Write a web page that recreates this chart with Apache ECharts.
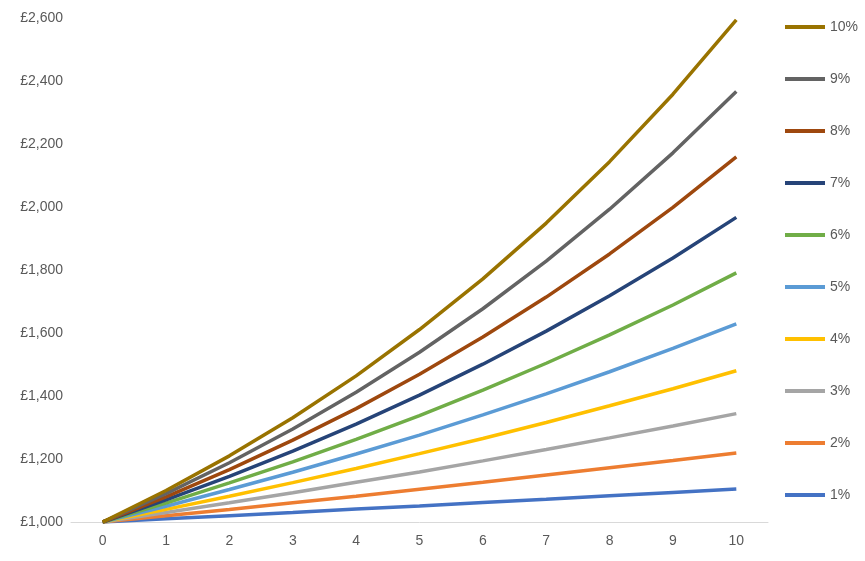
<!DOCTYPE html>
<html><head><meta charset="utf-8">
<script src="https://cdn.jsdelivr.net/npm/echarts@6/dist/echarts.min.js"></script>
<style>html,body{margin:0;padding:0;background:#fff}#c{width:865px;height:561px}</style>
</head><body><div id="c"></div>
<script>
const years = ['0','1','2','3','4','5','6','7','8','9','10'];
const names = ['1%','2%','3%','4%','5%','6%','7%','8%','9%','10%'];
const colors = ['#4472C4','#ED7D31','#A5A5A5','#FFC000','#5B9BD5','#70AD47','#264478','#9E480E','#636363','#997300'];
const r1 = [1000,1010,1020,1030,1041,1051,1062,1072,1083,1094,1105];
const r2 = [1000,1020,1040,1061,1082,1104,1126,1149,1172,1195,1219];
const r3 = [1000,1030,1061,1093,1126,1159,1194,1230,1267,1305,1344];
const r4 = [1000,1040,1082,1125,1170,1217,1265,1316,1369,1423,1480];
const r5 = [1000,1050,1103,1158,1216,1276,1340,1407,1477,1551,1629];
const r6 = [1000,1060,1124,1191,1262,1338,1419,1504,1594,1689,1791];
const r7 = [1000,1070,1145,1225,1311,1403,1501,1606,1718,1838,1967];
const r8 = [1000,1080,1166,1260,1360,1469,1587,1714,1851,1999,2159];
const r9 = [1000,1090,1188,1295,1412,1539,1677,1828,1993,2172,2367];
const r10 = [1000,1100,1210,1331,1464,1611,1772,1949,2144,2358,2594];
const values = [r1,r2,r3,r4,r5,r6,r7,r8,r9,r10];
const chart = echarts.init(document.getElementById('c'));
chart.setOption({
  animation:false,
  grid:{left:71,right:97,top:18,bottom:39},
  legend:{orient:'vertical',left:780,top:15,itemGap:38,itemWidth:40,itemHeight:4,icon:'rect',
    data:names.slice().reverse(),textStyle:{color:'#595959',fontSize:14,fontFamily:'Liberation Sans'}},
  xAxis:{type:'category',data:years,boundaryGap:true,
    axisLine:{lineStyle:{color:'#D9D9D9'}},axisTick:{show:false},
    axisLabel:{color:'#595959',fontSize:14,margin:12,fontFamily:'Liberation Sans'}},
  yAxis:{type:'value',min:1000,max:2600,interval:200,splitLine:{show:false},
    axisLine:{show:false},axisTick:{show:false},
    axisLabel:{color:'#595959',fontSize:14,fontFamily:'Liberation Sans',
      formatter:v=>'£'+v.toLocaleString('en-GB')}},
  series:names.map((n,i)=>({name:n,type:'line',data:values[i],symbol:'none',
    itemStyle:{color:colors[i]},lineStyle:{width:3.5,color:colors[i]}}))
});
</script></body></html>
